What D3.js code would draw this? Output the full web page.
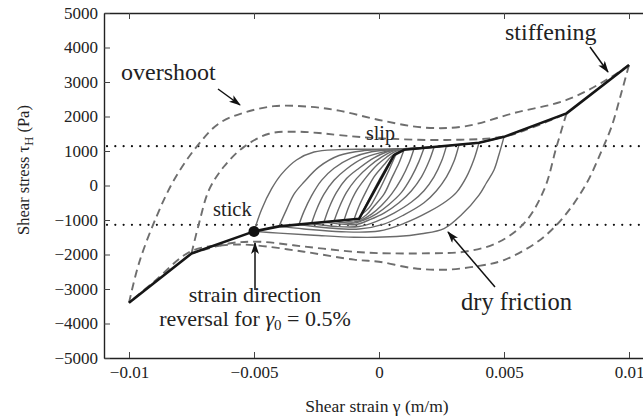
<!DOCTYPE html>
<html>
<head>
<meta charset="utf-8">
<script src="https://cdn.jsdelivr.net/npm/d3@7/dist/d3.min.js"></script>
</head>
<body style="margin:0;background:#fff">
<svg id="chart" width="643" height="418" style="display:block"></svg>
<script>
// Axis ticks
const xTicks = [-0.01, -0.005, 0, 0.005, 0.01];
const xTickLabels = ["\u22120.01", "\u22120.005", "0", "0.005", "0.01"];
const yTicks = [-5000, -4000, -3000, -2000, -1000, 0, 1000, 2000, 3000, 4000, 5000];

// Stick and slip stress levels (Pa)
const slipLevel = 1140;
const stickLevel = -1140;

// Backbone through the loop tips [strain, stress]
const backbone = [
  [-0.01, -3400], [-0.0075, -1970], [-0.005, -1330], [-0.004, -1185],
  [-0.0008, -965], [0.0006, 880], [0.001, 1035], [0.004, 1240],
  [0.005, 1410], [0.0075, 2090], [0.01, 3490]
];

// Large-amplitude loops (dashed): gamma0 = 1% and 0.75%
const outerUp = [
  [-0.01, -3400], [-0.0096, -2250], [-0.0089, -900], [-0.0082, 160],
  [-0.0073, 1120], [-0.0064, 1800], [-0.0054, 2110], [-0.0042, 2300],
  [-0.0029, 2290], [-0.0016, 2170], [0, 1900], [0.0018, 1680],
  [0.0034, 1710], [0.0054, 2100], [0.0075, 2480], [0.0091, 3060], [0.01, 3490]
];
const outerDown = [
  [0.01, 3490], [0.0097, 2700], [0.0093, 1700], [0.0089, 1000],
  [0.0083, 60], [0.0074, -900], [0.0064, -1600], [0.005, -2160],
  [0.004, -2330], [0.0027, -2440], [0.0014, -2400], [0, -2210],
  [-0.001, -2150], [-0.003, -1920], [-0.005, -1730], [-0.006, -1720],
  [-0.0075, -1900], [-0.009, -2790], [-0.01, -3400]
];
const innerUp = [
  [-0.0075, -1970], [-0.0072, -1100], [-0.0068, -130], [-0.0062, 550],
  [-0.0054, 1120], [-0.0044, 1500], [-0.0033, 1560], [-0.0024, 1520],
  [-0.0016, 1460], [0, 1370], [0.0027, 1320], [0.005, 1420],
  [0.0062, 1700], [0.0075, 2090]
];
const innerDown = [
  [0.0075, 2090], [0.0071, 1120], [0.0066, -130], [0.0058, -1100],
  [0.0047, -1670], [0.0034, -1920], [0.002, -1965], [0, -1960],
  [-0.001, -1920], [-0.003, -1770], [-0.0048, -1630], [-0.006, -1680],
  [-0.0075, -1970]
];

// Small-amplitude loops (solid), gamma0 from 0.5% down to 0.07%
const solidUp = [
  [[-0.005, -1330], [-0.0047, -700], [-0.0043, -100], [-0.0039, 330], [-0.0033, 740],
   [-0.0026, 970], [-0.0016, 1040], [-0.0004, 1050], [0.0006, 1060], [0.001, 1070],
   [0.002, 1110], [0.003, 1170], [0.004, 1240], [0.005, 1410]],
  [[-0.004, -1185], [-0.0037, -700], [-0.0034, -250], [-0.003, 100], [-0.0024, 540],
   [-0.0016, 870], [-0.0006, 1010], [0.0006, 1050], [0.002, 1110], [0.003, 1170], [0.004, 1240]],
  [[-0.0032, -1130], [-0.003, -750], [-0.0027, -300], [-0.0023, 150], [-0.0018, 500],
   [-0.0011, 800], [-0.0003, 980], [0.0006, 1045], [0.0014, 1065], [0.0022, 1110], [0.0032, 1180]],
  [[-0.0027, -1100], [-0.0025, -700], [-0.0022, -250], [-0.0018, 150], [-0.0013, 480],
   [-0.0006, 800], [0.0001, 960], [0.0006, 1040], [0.0014, 1065], [0.0027, 1150]],
  [[-0.0022, -1060], [-0.002, -650], [-0.0017, -200], [-0.0013, 200], [-0.0008, 500],
   [-0.0002, 800], [0.0003, 970], [0.0007, 1040], [0.0014, 1065], [0.0022, 1110]],
  [[-0.0018, -1035], [-0.0016, -650], [-0.0013, -200], [-0.0009, 200], [-0.0004, 550],
   [0.0001, 820], [0.0005, 980], [0.0008, 1040], [0.0018, 1085]],
  [[-0.0014, -1010], [-0.0012, -600], [-0.0009, -150], [-0.0005, 250], [-0.0001, 580],
   [0.0003, 820], [0.0006, 970], [0.0009, 1040], [0.0014, 1065]],
  [[-0.001, -985], [-0.0008, -600], [-0.0005, -150], [-0.0002, 250], [0.0002, 600],
   [0.0005, 850], [0.0008, 990], [0.001, 1035]],
  [[-0.0007, -840], [-0.0004, -400], [0, 150], [0.0004, 650], [0.0007, 940]]
];
const solidDown = [
  [[0.005, 1410], [0.0048, 900], [0.0046, 450], [0.0043, 80], [0.004, -280],
   [0.0033, -850], [0.0026, -1250], [0.0017, -1400], [0.0007, -1480], [-0.001, -1500],
   [-0.0026, -1440], [-0.004, -1380], [-0.005, -1330]],
  [[0.004, 1240], [0.0038, 760], [0.0035, 250], [0.0031, -200], [0.0027, -450],
   [0.002, -760], [0.001, -1100], [0, -1320], [-0.0015, -1340], [-0.003, -1260], [-0.004, -1185]],
  [[0.0032, 1180], [0.003, 700], [0.0027, 250], [0.0023, -150], [0.0018, -500],
   [0.001, -850], [0.0002, -1120], [-0.0008, -1260], [-0.002, -1230], [-0.0032, -1130]],
  [[0.0027, 1150], [0.0025, 700], [0.0022, 250], [0.0018, -150], [0.0013, -480],
   [0.0006, -800], [-0.0001, -1040], [-0.0008, -1190], [-0.0017, -1190], [-0.0027, -1100]],
  [[0.0022, 1110], [0.002, 700], [0.0017, 250], [0.0013, -150], [0.0008, -500],
   [0.0002, -800], [-0.0004, -1000], [-0.0009, -1130], [-0.0015, -1120], [-0.0022, -1060]],
  [[0.0018, 1085], [0.0016, 700], [0.0013, 250], [0.0009, -200], [0.0004, -550],
   [-0.0001, -820], [-0.0006, -1000], [-0.001, -1090], [-0.0018, -1035]],
  [[0.0014, 1065], [0.0012, 650], [0.0009, 200], [0.0005, -250], [0.0001, -580],
   [-0.0003, -830], [-0.0007, -1000], [-0.001, -1060], [-0.0014, -1010]],
  [[0.001, 1035], [0.0008, 650], [0.0005, 200], [0.0002, -250], [-0.0002, -600],
   [-0.0005, -850], [-0.0008, -990], [-0.001, -985]],
  [[0.0007, 940], [0.0004, 450], [0, -150], [-0.0004, -650], [-0.0007, -840]]
];

// Point where strain reverses for gamma0 = 0.5%
const reversalPoint = [-0.005, -1330];

const SERIF = "Liberation Serif";
const svg = d3.select("#chart").style("font-family", SERIF);
const x = d3.scaleLinear().domain([-0.011, 0.011]).range([104, 654]);
const y = d3.scaleLinear().domain([-5000, 5000]).range([358, 13]);

const smooth = d3.line().x(d => x(d[0])).y(d => y(d[1])).curve(d3.curveCatmullRom.alpha(0.5));
const straight = d3.line().x(d => x(d[0])).y(d => y(d[1]));

const plot = svg.append("g");

// stick / slip levels
[slipLevel, stickLevel].forEach(v => {
  plot.append("line")
    .attr("x1", x.range()[0] + 3).attr("x2", x.range()[1])
    .attr("y1", y(v)).attr("y2", y(v))
    .attr("stroke", "#111").attr("stroke-width", 2.2)
    .attr("stroke-linecap", "round").attr("stroke-dasharray", "0.01 8.3");
});

// dashed large loops
[outerUp, outerDown, innerUp, innerDown].forEach(c => {
  plot.append("path").attr("d", smooth(c))
    .attr("fill", "none").attr("stroke", "#6e6e6e").attr("stroke-width", 1.9)
    .attr("stroke-dasharray", "8 5");
});

// solid small loops
solidUp.concat(solidDown).forEach(c => {
  plot.append("path").attr("d", smooth(c))
    .attr("fill", "none").attr("stroke", "#6a6a6a").attr("stroke-width", 1.4);
});

// backbone
plot.append("path").attr("d", straight(backbone))
  .attr("fill", "none").attr("stroke", "#161616").attr("stroke-width", 2.6)
  .attr("stroke-linejoin", "round");

plot.append("circle")
  .attr("cx", x(reversalPoint[0])).attr("cy", y(reversalPoint[1]))
  .attr("r", 5.5).attr("fill", "#111");

// axes (ticks drawn inward)
const axes = svg.append("g");
const gx = axes.append("g").attr("transform", `translate(0,${y.range()[0]})`)
  .call(d3.axisBottom(x).tickValues(xTicks).tickSizeInner(-6).tickSizeOuter(0)
    .tickFormat((d, i) => xTickLabels[i]).tickPadding(8));
const gxTop = axes.append("g").attr("transform", `translate(0,${y.range()[1]})`)
  .call(d3.axisTop(x).tickValues(xTicks).tickSizeInner(-6).tickSizeOuter(0).tickFormat(""));
const gy = axes.append("g").attr("transform", `translate(${x.range()[0]},0)`)
  .call(d3.axisLeft(y).tickValues(yTicks).tickSizeInner(-6).tickSizeOuter(0)
    .tickFormat(d => d < 0 ? "\u2212" + Math.abs(d) : String(d)).tickPadding(6));
const gyRight = axes.append("g").attr("transform", `translate(${x.range()[1]},0)`)
  .call(d3.axisRight(y).tickValues(yTicks).tickSizeInner(-6).tickSizeOuter(0).tickFormat(""));

[gx, gxTop, gy, gyRight].forEach(g => {
  g.attr("font-family", SERIF);
  g.select(".domain").attr("stroke", "#222").attr("stroke-width", 1.4);
  g.selectAll(".tick line").attr("stroke", "#444").attr("stroke-width", 1);
  g.selectAll(".tick text").attr("font-family", SERIF).style("font-family", SERIF)
    .attr("font-size", 17).attr("fill", "#222");
});

// axis titles
svg.append("text").attr("x", 377).attr("y", 412).attr("text-anchor", "middle")
  .attr("font-family", SERIF).style("font-family", SERIF).attr("font-size", 17.5).attr("fill", "#222")
  .text("Shear strain \u03b3 (m/m)");
const yt = svg.append("text").attr("transform", "translate(29,170) rotate(-90)")
  .attr("text-anchor", "middle").attr("font-family", SERIF).style("font-family", SERIF)
  .attr("font-size", 16.5).attr("fill", "#222");
yt.append("tspan").text("Shear stress \u03c4");
yt.append("tspan").attr("font-size", 12.5).attr("dy", 4).text("H");
yt.append("tspan").attr("dy", -4).text(" (Pa)");

// annotations
const defs = svg.append("defs");
defs.append("marker").attr("id", "head").attr("viewBox", "0 0 12 8")
  .attr("refX", 11).attr("refY", 4).attr("markerWidth", 12).attr("markerHeight", 8)
  .attr("markerUnits", "userSpaceOnUse").attr("orient", "auto")
  .append("path").attr("d", "M0,0 L12,4 L0,8 L3,4 Z").attr("fill", "#111");

const arrows = [
  [218, 89, 240, 105],
  [590, 47, 608, 72],
  [255, 290, 255, 243],
  [495, 287, 448, 232]
];
arrows.forEach(a => {
  svg.append("line").attr("x1", a[0]).attr("y1", a[1]).attr("x2", a[2]).attr("y2", a[3])
    .attr("stroke", "#111").attr("stroke-width", 1.5).attr("marker-end", "url(#head)");
});

const note = (tx, ty, str, size, anchor) => svg.append("text")
  .attr("x", tx).attr("y", ty).attr("font-size", size).attr("fill", "#222")
  .attr("font-family", SERIF).style("font-family", SERIF)
  .attr("text-anchor", anchor || "start").text(str);

note(121, 80, "overshoot", 24);
note(505, 40, "stiffening", 24);
note(461, 310, "dry friction", 24.5);
note(366, 140, "slip", 20);
note(213, 216, "stick", 20.5);
note(255, 302, "strain direction", 22, "middle");
const rv = svg.append("text").attr("x", 255).attr("y", 326).attr("font-size", 22)
  .attr("fill", "#222").attr("font-family", SERIF).style("font-family", SERIF)
  .attr("text-anchor", "middle");
rv.append("tspan").text("reversal for ");
rv.append("tspan").attr("font-style", "italic").text("\u03b3");
rv.append("tspan").attr("font-size", 15).attr("dy", 4).text("0");
rv.append("tspan").attr("dy", -4).text(" = 0.5%");
</script>
</body>
</html>
